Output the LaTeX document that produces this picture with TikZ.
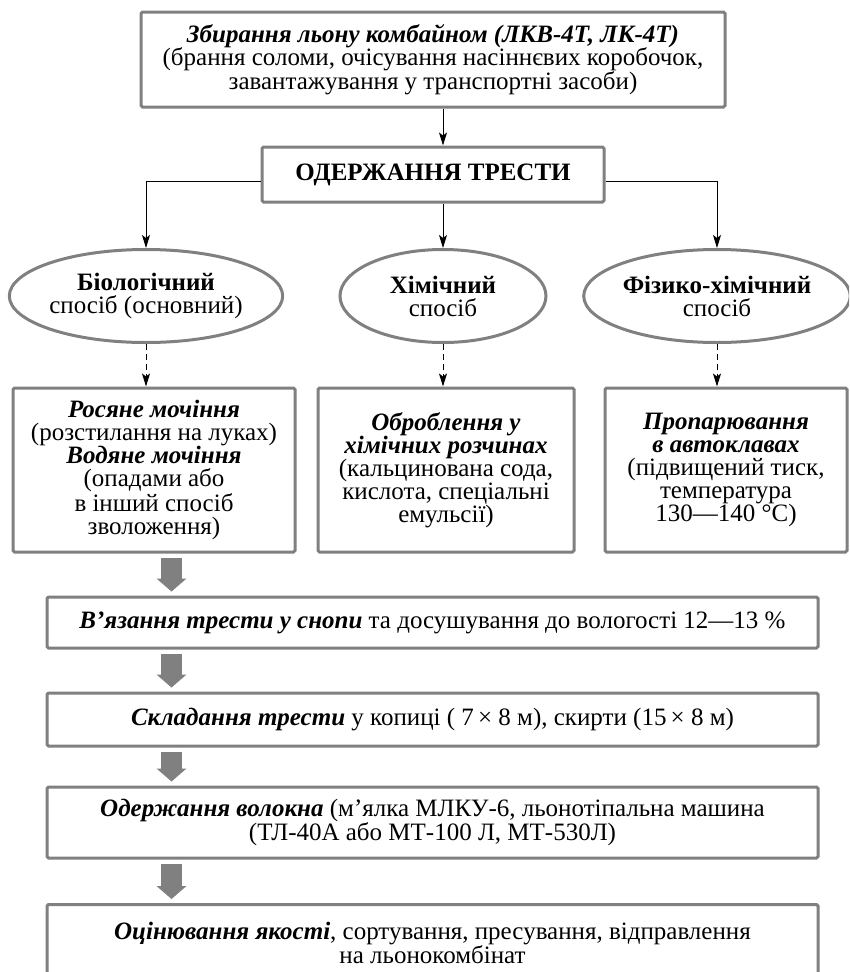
\documentclass[tikz,border=0pt]{standalone}
\usepackage{fontspec}
\setmainfont{Liberation Serif}
\usetikzlibrary{shapes.geometric,arrows.meta,calc}
\definecolor{framegray}{RGB}{128,128,128}
\newcommand{\bi}[1]{\textbf{\textit{#1}}}
\begin{document}
\begin{tikzpicture}[x=1pt,y=-1pt,
  txt/.style={font=\fontsize{25}{23}\selectfont},
  frame/.style={txt,draw=framegray,line width=3pt,rounded corners=1.5pt,fill=white,
    inner sep=0pt,align=center},
  oval/.style={txt,ellipse,draw=framegray,line width=3pt,fill=white,inner sep=0pt,
    align=center},
  link/.style={draw=black,line width=1pt,-{Stealth[length=13pt,width=8pt,inset=3pt]}},
  dlink/.style={link,dash pattern=on 6pt off 4pt},
  fat/.style={draw=framegray,line width=21pt,shorten <=4pt,shorten >=4pt,
    -{Triangle[length=13pt,width=30pt,line width=0pt]}}]
\clip (0,0) rectangle (849,972);
\fill[white] (0,0) rectangle (849,972);

% harvesting and the central step
\node[frame,minimum width=584pt,minimum height=95pt,font=\fontsize{25}{23.5}\selectfont]
  (top) at (433,59.5)
  {\bi{Збирання льону комбайном (ЛКВ-4Т, ЛК-4Т)}\\
   (брання соломи, очісування насіннєвих коробочок,\\
   завантажування у транспортні засоби)};
\node[frame,minimum width=342pt,minimum height=55pt] (odz) at (433,174.5)
  {\textbf{ОДЕРЖАННЯ ТРЕСТИ}};

% the three retting methods
\node[oval,minimum width=272pt,minimum height=93pt] (bio) at (146,296)
  {\textbf{Біологічний}\\спосіб (основний)};
\node[oval,minimum width=206pt,minimum height=93pt] (him) at (443,296)
  {\textbf{Хімічний}\\спосіб};
\node[oval,minimum width=259pt,minimum height=93pt] (fiz) at (717,296)
  {\textbf{Фізико-хімічний}\\спосіб};

\node[frame,minimum width=282pt,minimum height=164pt] (b1) at (154,470)
  {\bi{Росяне мочіння}\\(розстилання на луках)\\\bi{Водяне мочіння}\\
   (опадами або\\в інший спосіб\\зволоження)};
\node[frame,minimum width=256pt,minimum height=164pt] (b2) at (446,470)
  {\bi{Оброблення у}\\\bi{хімічних розчинах}\\(кальцинована сода,\\
   кислота, спеціальні\\емульсії)};
\node[frame,minimum width=242pt,minimum height=164pt] (b3) at (726,470)
  {\bi{Пропарювання}\\\bi{в автоклавах}\\(підвищений тиск,\\температура\\130—140 °С)};

% processing chain
\node[frame,minimum width=771pt,minimum height=51pt] (b5) at (432.5,622.5)
  {\bi{В’язання трести у снопи} та досушування до вологості 12—13 \%};
\node[frame,minimum width=771pt,minimum height=53pt] (b6) at (432.5,719.5)
  {\bi{Складання трести} у копиці ( 7\,× 8 м), скирти (15\,× 8 м)};
\node[frame,minimum width=771pt,minimum height=71pt] (b7) at (432.5,822.5)
  {\bi{Одержання волокна} (м’ялка МЛКУ-6, льонотіпальна машина\\
   (ТЛ-40А або МТ-100 Л, МТ-530Л)};
\node[frame,minimum width=771pt,minimum height=82pt,anchor=north] (b8) at (432.5,903)
  {};
\node[txt,align=center,anchor=north,inner sep=0pt] (b8t) at (432.5,922)
  {\bi{Оцінювання якості}, сортування, пресування, відправлення\\на льонокомбінат};

% connectors
\draw[link] (top.south -| him.north) -- (odz.north -| him.north);
\draw[link] ([yshift=-6.5pt]odz.west) -| (bio.north);
\draw[link] ([yshift=-6.5pt]odz.east) -| (fiz.north);
\draw[link] (odz.south -| him.north) -- (him.north);

\draw[dlink] (bio.south) -- (bio.south |- b1.north);
\draw[dlink] (him.south) -- (him.south |- b2.north);
\draw[dlink] (fiz.south) -- (fiz.south |- b3.north);

\coordinate (fx) at (171.5,0);
\draw[fat] (b1.south -| fx) -- (b5.north -| fx);
\draw[fat] (b5.south -| fx) -- (b6.north -| fx);
\draw[fat] (b6.south -| fx) -- (b7.north -| fx);
\draw[fat] (b7.south -| fx) -- (b8.north -| fx);
\end{tikzpicture}
\end{document}
